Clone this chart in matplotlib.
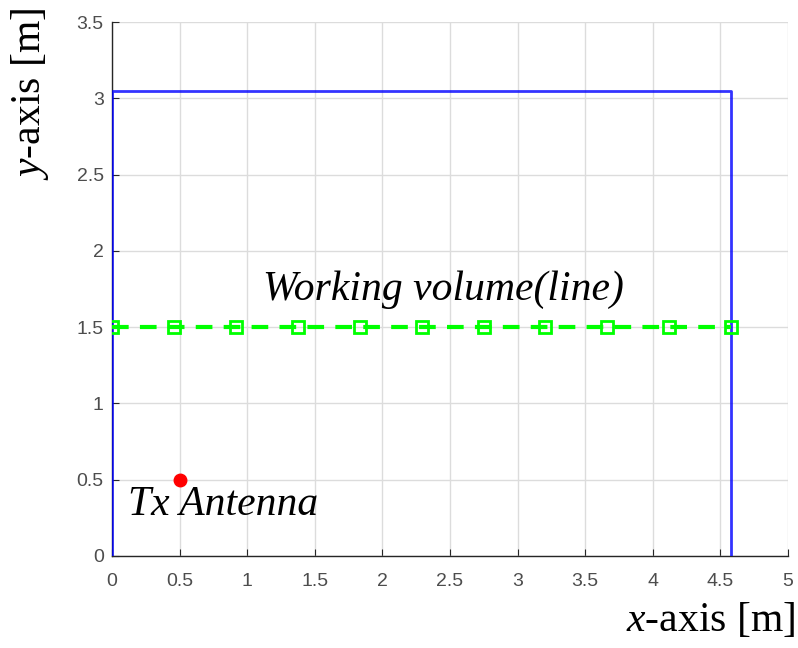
import matplotlib.pyplot as plt

plt.rcParams["mathtext.fontset"] = "custom"
plt.rcParams["mathtext.rm"] = "Liberation Serif"
plt.rcParams["mathtext.it"] = "Liberation Serif:italic"

# room outline (m)
room_x = [0.0, 0.0, 4.58, 4.58]
room_y = [0.0, 3.05, 3.05, 0.0]

# measurement points along the working line
line_x = [0.0, 0.458, 0.916, 1.374, 1.832, 2.29, 2.748, 3.206, 3.664, 4.122, 4.58]
line_y = [1.5] * len(line_x)

# transmitter position
tx_x = [0.5]
tx_y = [0.5]

xticks = [0, 0.5, 1, 1.5, 2, 2.5, 3, 3.5, 4, 4.5, 5]
yticks = [0, 0.5, 1, 1.5, 2, 2.5, 3, 3.5]

serif = "Liberation Serif"
tick_color = "#4d4d4d"

fig = plt.figure(figsize=(7.98, 6.48), dpi=100)
ax = fig.add_axes([0.1404, 0.142, 0.847, 0.824])

ax.plot(room_x, room_y, color="#0000ff", lw=2, alpha=0.8, zorder=3)
ax.plot(line_x, line_y, color="#00ff00", lw=3, ls=(0, (4, 2.7)),
        marker="s", ms=8, mfc="none", mec="#00ff00", mew=2, zorder=4)
ax.plot(tx_x, tx_y, "o", color="#ff0000", ms=9, zorder=5)

ax.text(1.12, 1.68, "Working volume(line)", family=serif, style="italic",
        fontsize=30, color="black")
ax.text(0.12, 0.27, "Tx Antenna", family=serif, style="italic",
        fontsize=30, color="black")

ax.set_xlim(0, 5)
ax.set_ylim(0, 3.5)
ax.set_xticks(xticks)
ax.set_yticks(yticks)
ax.set_xticklabels([f"{t:g}" for t in xticks], family="Liberation Sans")
ax.set_yticklabels([f"{t:g}" for t in yticks], family="Liberation Sans")
ax.tick_params(direction="in", length=5, color="#262626", labelsize=14,
               labelcolor=tick_color)
ax.tick_params(axis="x", pad=12)
ax.tick_params(axis="y", pad=6)

ax.grid(True, color="#dcdcdc", lw=1)
ax.set_axisbelow(True)
for side in ("top", "right"):
    ax.spines[side].set_visible(False)
for side in ("left", "bottom"):
    ax.spines[side].set_color("#262626")
    ax.spines[side].set_linewidth(1)

fig.text(0.997, 0.012, r"$\mathit{x}$-axis [m]", ha="right", va="bottom",
         family=serif, fontsize=30)
fig.text(0.038, 0.988, r"$\mathit{y}$-axis [m]", ha="center", va="top",
         rotation=90, family=serif, fontsize=30)

fig.savefig("out.png", dpi=100)
